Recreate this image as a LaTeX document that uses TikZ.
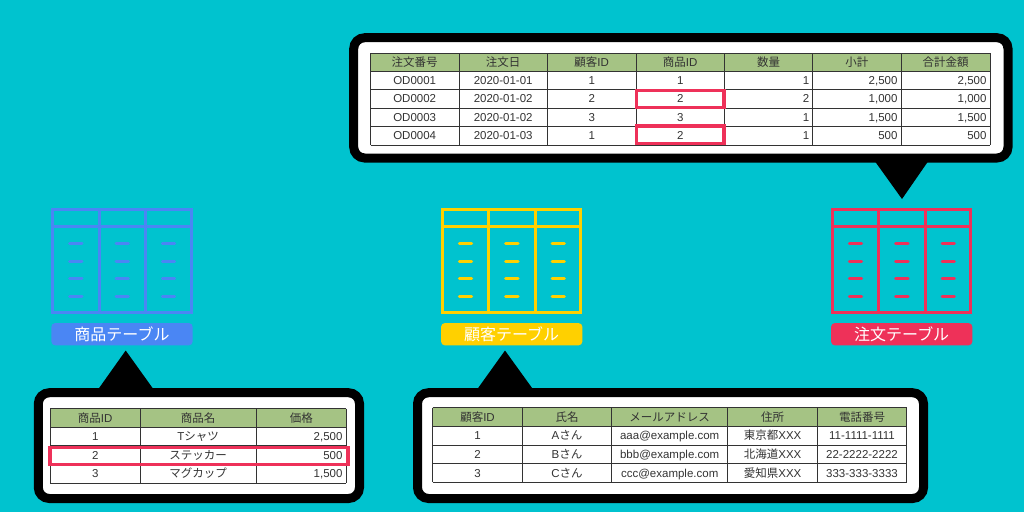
\documentclass[tikz,border=0pt]{standalone}
\usepackage{fontspec}
\setmainfont{Liberation Sans}
\newfontfamily\cjk{Noto Sans CJK JP}
\newcommand{\jp}[1]{{\cjk #1}}
\definecolor{bg_teal}{HTML}{00C3CF}
\definecolor{tb_blue}{HTML}{4A86F4}
\definecolor{tb_yellow}{HTML}{FFD000}
\definecolor{tb_red}{HTML}{EE3159}
\definecolor{hd_green}{HTML}{A5C384}
\definecolor{cell_ink}{HTML}{333333}
\tikzset{
    cell/.style={font=\fontsize{11.5}{12}\selectfont, text=cell_ink, inner sep=0pt, text height=8.2pt, text depth=0pt},
    numcell/.style={cell, anchor=east},
    bubble/.style={draw=black, fill=white, line width=9pt, rounded corners=11pt},
    grid/.style={draw=cell_ink, line width=1pt},
    mark_box/.style={draw=tb_red, line width=3.6pt},
    icon_line/.style={line width=3pt},
    icon_label/.style={rounded corners=4pt, minimum width=141.4pt, minimum height=22.4pt, inner sep=0pt, text=white, font=\fontsize{16}{18}\selectfont},
}
\begin{document}
\begin{tikzpicture}[x=1pt, y=-1pt]
    \useasboundingbox (0, 0) rectangle (1024, 512);
    \fill [bg_teal] (0, 0) rectangle (1024, 512);

    % bubbles
    \fill (874, 160) -- (929, 160) -- (902, 199) -- cycle;
    \fill (97.7, 390) -- (154, 390) -- (125.7, 350.5) -- cycle;
    \fill (476.7, 390) -- (533.5, 390) -- (505, 350.5) -- cycle;
    \draw [bubble] (353.7, 37.7) rectangle (1008, 158);
    \draw [bubble] (38.3, 392.7) rectangle (359.5, 498.5);
    \draw [bubble] (417.5, 392.7) rectangle (923.5, 498.5);

    % order table
    \fill [hd_green] (370.5, 53) rectangle (990, 71);
    \foreach \xx in {370.5, 459, 547.5, 636, 724.5, 812.7, 901, 990}
        \draw [grid] (\xx, 53) -- (\xx, 145);
    \foreach \yy in {53, 71, 89.5, 108, 126.5, 145}
        \draw [grid] (370.5, \yy) -- (990, \yy);
    \foreach \c/\xx/\txt in {1/414.7/注文番号, 2/503.2/注文日, 5/768.6/数量, 6/856.8/小計, 7/945.5/合計金額}
        \node [cell] (ordh\c) at (\xx, 62) {\jp{\txt}};
    \node [cell] (ordh3) at (591.7, 62) {\jp{顧客}ID};
    \node [cell] (ordh4) at (680.2, 62) {\jp{商品}ID};
    \foreach \r/\yy/\a/\b/\c/\d/\e/\f/\g in {
        1/80.3/OD0001/2020-01-01/1/1/1/{2,500}/{2,500},
        2/98.8/OD0002/2020-01-02/2/2/2/{1,000}/{1,000},
        3/117.3/OD0003/2020-01-02/3/3/1/{1,500}/{1,500},
        4/135.8/OD0004/2020-01-03/1/2/1/500/500}
    {
        \node [cell] (ord\r a) at (414.7, \yy) {\a};
        \node [cell] (ord\r b) at (503.2, \yy) {\b};
        \node [cell] (ord\r c) at (591.7, \yy) {\c};
        \node [cell] (ord\r d) at (680.2, \yy) {\d};
        \node [numcell] (ord\r e) at (809.4, \yy) {\e};
        \node [numcell] (ord\r f) at (897.7, \yy) {\f};
        \node [numcell] (ord\r g) at (986.7, \yy) {\g};
    }
    \draw [mark_box] (636.5, 90.5) rectangle (724, 107.5);
    \draw [mark_box] (636.5, 126) rectangle (724, 143.5);

    % product table
    \fill [hd_green] (50.3, 408.7) rectangle (346.3, 427.3);
    \foreach \xx in {50.3, 140, 256.3, 346.3}
        \draw [grid] (\xx, 408.7) -- (\xx, 483);
    \foreach \yy in {408.7, 427.3, 445.8, 464.4, 483}
        \draw [grid] (50.3, \yy) -- (346.3, \yy);
    \node [cell] (prdh1) at (95.2, 418) {\jp{商品}ID};
    \node [cell] (prdh2) at (198.2, 418) {\jp{商品名}};
    \node [cell] (prdh3) at (301.3, 418) {\jp{価格}};
    \foreach \r/\yy/\a/\b/\c in {
        1/436.6/1/T\jp{シャツ}/{2,500},
        2/455.1/2/\jp{ステッカー}/500,
        3/473.7/3/\jp{マグカップ}/{1,500}}
    {
        \node [cell] (prd\r a) at (95.2, \yy) {\a};
        \node [cell] (prd\r b) at (198.2, \yy) {\b};
        \node [numcell] (prd\r c) at (342.7, \yy) {\c};
    }
    \draw [mark_box] (50, 447.4) rectangle (348.2, 464.3);

    % customer table
    \fill [hd_green] (432.7, 407.7) rectangle (906.7, 426.3);
    \foreach \xx in {432.7, 522.3, 611.6, 727.8, 817.4, 906.7}
        \draw [grid] (\xx, 407.7) -- (\xx, 482.3);
    \foreach \yy in {407.7, 426.3, 445, 463.7, 482.3}
        \draw [grid] (432.7, \yy) -- (906.7, \yy);
    \node [cell] (cush1) at (477.5, 417) {\jp{顧客}ID};
    \node [cell] (cush2) at (567, 417) {\jp{氏名}};
    \node [cell] (cush3) at (669.7, 417) {\jp{メールアドレス}};
    \node [cell] (cush4) at (772.6, 417) {\jp{住所}};
    \node [cell] (cush5) at (862, 417) {\jp{電話番号}};
    \foreach \r/\yy/\a/\b/\c/\d/\e in {
        1/435.6/1/A\jp{さん}/aaa@example.com/\jp{東京都}XXX/11-1111-1111,
        2/454.3/2/B\jp{さん}/bbb@example.com/\jp{北海道}XXX/22-2222-2222,
        3/473/3/C\jp{さん}/ccc@example.com/\jp{愛知県}XXX/333-333-3333}
    {
        \node [cell] (cus\r a) at (477.5, \yy) {\a};
        \node [cell] (cus\r b) at (567, \yy) {\b};
        \node [cell] (cus\r c) at (669.7, \yy) {\c};
        \node [cell] (cus\r d) at (772.6, \yy) {\d};
        \node [cell] (cus\r e) at (862, \yy) {\e};
    }

    % table icons
    \foreach \iname/\xx/\icol/\ltxt in {prd/0/tb_blue/商品テーブル, cus/389.7/tb_yellow/顧客テーブル, ord/779.7/tb_red/注文テーブル}
    {
        \begin{scope}[xshift=\xx pt, draw=\icol]
            \draw [icon_line] (52.8, 209.5) rectangle (191.2, 312.5);
            \draw [icon_line] (52.8, 226.3) -- (191.2, 226.3);
            \draw [icon_line] (99, 209.5) -- (99, 312.5);
            \draw [icon_line] (145.3, 209.5) -- (145.3, 312.5);
            \foreach \dx in {68.7, 115, 161.4}
                \foreach \dy in {243.7, 261.2, 278.6, 296}
                    \draw [icon_line, line cap=round] (\dx+1, \dy) -- (\dx+13.3, \dy);
            \node [icon_label, fill=\icol] (\iname label) at (122, 334.2) {\jp{\ltxt}};
        \end{scope}
    }
\end{tikzpicture}
\end{document}
